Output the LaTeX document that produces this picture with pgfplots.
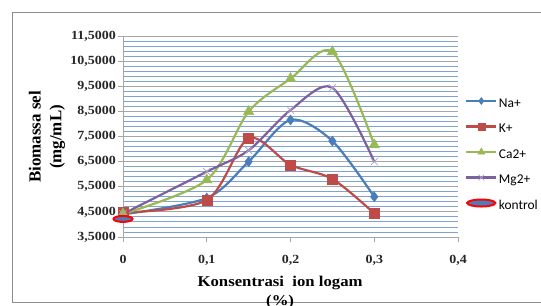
\documentclass[border=0pt]{standalone}
\usepackage{fontspec}
\setmainfont{Liberation Serif}
\newfontfamily\tickfont[FakeStretch=1.12]{Liberation Serif}
\newfontfamily\legfont{Carlito}
\usepackage{pgfplots}
\pgfplotsset{compat=1.18}
\definecolor{naC}{HTML}{4A7EBB}
\definecolor{kC}{HTML}{BE4B48}
\definecolor{caC}{HTML}{98B954}
\definecolor{mgC}{HTML}{7D60A0}
\definecolor{mgM}{HTML}{B3A2C7}
\definecolor{gridblue}{HTML}{7FA3D3}
\definecolor{gridgray}{HTML}{A6A6A6}
\pgfdeclareplotmark{oval}{\pgfpathellipse{\pgfpointorigin}{\pgfqpoint{9.5bp}{0pt}}{\pgfqpoint{0pt}{3bp}}\pgfusepathqfillstroke}
\begin{document}
\begin{tikzpicture}[x=1bp,y=1bp]
\clip (0,0) rectangle (541,305);
\draw[gridgray!85!black, line width=0.9bp] (12,3) rectangle (600,293);
\begin{axis}[
  at={(123bp,68bp)}, anchor=south west,
  scale only axis, width=335bp, height=201bp,
  xmin=0, xmax=0.4, ymin=3.5, ymax=11.5,
  axis lines=left, axis line style={-, gridgray, line width=0.9bp},
  clip=false,
  xtick={0,0.1,0.2,0.3,0.4},
  xticklabels={0,{0,1},{0,2},{0,3},{0,4}},
  ytick={3.5,4.5,5.5,6.5,7.5,8.5,9.5,10.5,11.5},
  yticklabels={{3,5000},{4,5000},{5,5000},{6,5000},{7,5000},{8,5000},{9,5000},{10,5000},{11,5000}},
  minor y tick num=4,
  ymajorgrids, yminorgrids,
  major grid style={gridgray, line width=0.9bp},
  minor grid style={gridblue, line width=0.9bp},
  tick style={gridgray, line width=0.9bp},
  major tick length=5bp, minor tick length=0pt,
  tick align=outside,
  ticklabel style={font=\tickfont\bfseries\fontsize{12.5}{14}\selectfont, text=black!85},
  yticklabel style={inner xsep=2bp},
  xticklabel style={inner ysep=13bp},
  xlabel={Konsentrasi\ \ ion logam\\(\%)},
  xlabel style={at={(axis description cs:0.469,-0.195)}, anchor=north, inner sep=0pt, align=center,
    font=\tickfont\bfseries\fontsize{15}{19}\selectfont},
  legend cell align=left,
  legend style={at={(axis description cs:1.021,0.70)}, anchor=north west, draw=none, fill=none,
    font=\legfont\fontsize{13.5}{15}\selectfont, inner sep=0pt, row sep=10.5bp,
    nodes={text height=9bp, text depth=3bp, inner sep=1.5bp}},
  legend image code/.code={\draw[#1] (0bp,3bp) -- (30bp,3bp); \draw[#1] plot coordinates {(15bp,3bp)};},
]
\addplot[naC, line width=2.2bp, smooth, mark=diamond*, mark size=5bp, mark options={fill=naC, line width=0.5bp}, legend image post style={mark size=3.5bp}]
  coordinates {(0,4.4) (0.1,5.05) (0.15,6.5) (0.2,8.16) (0.25,7.32) (0.3,5.1)};
\addlegendentry{Na+}
\addplot[kC, line width=2.2bp, smooth, mark=square*, mark size=5bp, mark options={fill=kC, line width=0.5bp}, legend image post style={mark size=3.5bp}]
  coordinates {(0,4.47) (0.1,4.97) (0.15,7.43) (0.2,6.37) (0.25,5.81) (0.3,4.44)};
\addlegendentry{K+}
\addplot[caC, line width=2.2bp, smooth, mark=triangle*, mark size=6bp, mark options={fill=caC, line width=0.5bp}, legend image post style={mark size=4bp}]
  coordinates {(0,4.42) (0.1,5.77) (0.15,8.49) (0.2,9.8) (0.25,10.87) (0.3,7.17)};
\addlegendentry{Ca2+}
\addplot[mgC, line width=2.2bp, smooth, mark=x, mark size=5bp, mark options={draw=mgM, line width=0.8bp}, legend image post style={mark size=4bp}]
  coordinates {(0,4.42) (0.1,6.1) (0.15,6.95) (0.2,8.55) (0.25,9.44) (0.3,6.5)};
\addlegendentry{Mg2+}
\addplot[only marks, mark=oval, mark options={draw=red, fill=naC, line width=2bp},
  legend image code/.code={\draw[naC, line width=2.2bp] (0bp,3bp) -- (30bp,3bp); \draw[red, fill=naC, line width=2bp] (15bp,3bp) ellipse (14bp and 3.5bp);}]
  coordinates {(0,4.22)};
\addlegendentry{kontrol}
\end{axis}
\node[rotate=90, align=center, inner sep=0pt, font=\bfseries\fontsize{17}{21}\selectfont] at (47,168) {Biomassa sel\\(mg/mL)};
\end{tikzpicture}
\end{document}
